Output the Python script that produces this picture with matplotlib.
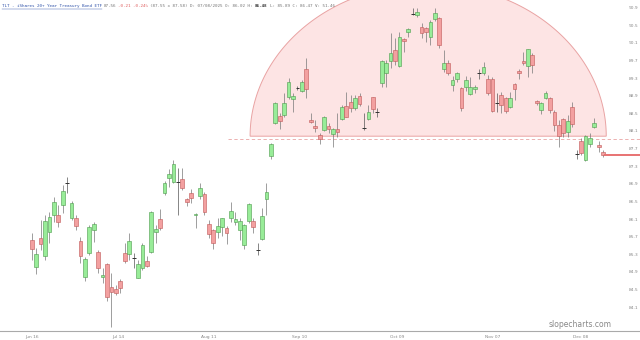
import numpy as np
import matplotlib
matplotlib.use("Agg")
import matplotlib.pyplot as plt
from matplotlib.patches import Rectangle
from matplotlib.lines import Line2D

# daily OHLC
opens = [85.63, 85.01, 85.67, 85.26, 85.81, 86.19, 86.19, 86.42, 86.92, 86.13,
         86.13, 85.60, 84.79, 85.33, 85.85, 85.35, 84.79, 85.08, 84.56, 84.52,
         84.70, 85.33, 85.31, 85.22, 84.77, 84.99, 85.15, 85.35, 85.81, 86.10,
         86.69, 87.03, 86.94, 86.94, 87.01, 86.56, 86.69, 86.19, 86.63, 86.67,
         85.99, 85.85, 85.81, 85.92, 85.90, 86.13, 86.04, 85.85, 85.51, 86.06,
         86.06, 85.40, 85.65, 86.56, 87.53, 88.28, 88.44, 88.46, 88.87, 88.82,
         89.07, 89.01, 89.51, 88.35, 88.21, 88.01, 88.12, 88.21, 88.03, 88.14,
         88.37, 88.67, 88.76, 88.62, 88.89, 88.17, 88.37, 88.87, 88.53, 89.19,
         89.41, 89.69, 89.94, 89.57, 90.19, 90.34, 90.75, 90.73, 90.46, 90.44,
         90.23, 90.64, 90.66, 89.51, 89.64, 89.14, 89.28, 89.07, 89.10, 88.94,
         89.05, 89.41, 89.41, 89.28, 89.28, 88.73, 88.92, 88.85, 88.64, 89.16,
         89.46, 89.69, 89.57, 89.82, 88.78, 88.58, 88.85, 88.85, 88.53, 88.24,
         88.37, 88.08, 88.64, 87.58, 87.87, 87.44, 87.80, 88.19, 87.78, 87.62]
highs = [85.79, 85.45, 86.08, 86.19, 86.26, 86.60, 86.42, 86.87, 87.06, 86.51,
         86.19, 85.69, 85.24, 85.97, 86.04, 85.40, 84.99, 85.10, 84.88, 84.61,
         84.74, 85.56, 85.79, 85.33, 85.17, 85.56, 85.26, 86.29, 85.97, 86.33,
         86.97, 87.24, 87.44, 87.26, 87.26, 86.58, 86.78, 86.24, 86.92, 86.72,
         86.08, 85.88, 86.13, 86.13, 85.94, 86.49, 86.26, 86.13, 85.99, 86.47,
         86.13, 85.56, 86.35, 86.92, 87.83, 88.76, 88.51, 88.96, 89.30, 88.96,
         89.12, 89.26, 89.75, 88.51, 88.35, 88.05, 88.44, 88.28, 88.17, 88.51,
         88.69, 88.98, 88.92, 88.92, 88.96, 88.51, 88.69, 88.88, 88.62, 89.71,
         89.71, 90.32, 90.21, 90.34, 90.21, 90.44, 90.89, 90.89, 90.55, 90.46,
         90.62, 90.89, 90.68, 89.94, 89.71, 89.35, 89.44, 89.10, 89.35, 89.32,
         89.14, 89.51, 89.66, 89.37, 89.32, 88.96, 88.98, 88.87, 88.98, 89.19,
         89.51, 89.89, 89.96, 89.87, 88.80, 88.76, 89.01, 88.87, 88.58, 88.35,
         88.39, 88.46, 88.76, 87.67, 87.94, 88.01, 88.05, 88.39, 87.87, 87.67]
lows = [85.17, 84.86, 85.40, 85.17, 85.56, 86.04, 85.92, 86.24, 86.69, 86.08,
        85.85, 85.10, 84.70, 85.29, 85.58, 84.88, 84.65, 84.24, 83.65, 84.38,
        84.42, 85.10, 85.17, 84.99, 84.76, 84.95, 85.01, 85.33, 85.56, 85.85,
        86.65, 86.83, 86.92, 86.19, 86.76, 86.40, 86.47, 85.90, 86.56, 86.19,
        85.67, 85.42, 85.67, 85.72, 85.54, 86.04, 85.97, 85.63, 85.42, 86.01,
        85.79, 85.29, 85.63, 86.19, 87.46, 88.26, 88.14, 88.42, 88.82, 88.53,
        89.03, 88.98, 88.85, 88.28, 88.08, 87.80, 88.10, 88.05, 87.74, 87.96,
        88.35, 88.41, 88.53, 88.58, 88.67, 88.12, 88.35, 88.51, 88.42, 89.10,
        89.10, 89.53, 89.60, 89.55, 89.89, 90.23, 90.73, 90.68, 90.21, 90.12,
        90.05, 90.59, 89.98, 89.44, 89.37, 89.00, 89.21, 88.55, 89.00, 88.92,
        88.96, 89.28, 89.37, 88.92, 88.53, 88.53, 88.51, 88.51, 88.62, 88.80,
        89.28, 89.60, 89.32, 89.41, 88.69, 88.49, 88.82, 88.51, 88.10, 87.74,
        87.96, 87.96, 88.19, 87.46, 87.55, 87.42, 87.74, 88.17, 87.62, 87.51]
closes = [85.42, 85.31, 85.54, 86.06, 86.15, 86.49, 86.04, 86.74, 86.91, 86.47,
          85.94, 85.26, 85.20, 85.92, 85.99, 84.99, 84.83, 84.33, 84.45, 84.42,
          84.54, 85.15, 85.60, 85.21, 85.08, 85.51, 85.04, 86.26, 85.88, 85.90,
          86.92, 87.12, 87.35, 86.93, 86.81, 86.49, 86.58, 86.22, 86.81, 86.26,
          85.76, 85.56, 85.94, 86.13, 85.79, 86.29, 86.10, 86.06, 85.97, 86.44,
          85.92, 85.39, 86.17, 86.72, 87.80, 88.73, 88.33, 88.73, 89.21, 88.89,
          89.06, 89.21, 89.05, 88.30, 88.17, 87.92, 88.42, 88.14, 88.14, 88.08,
          88.64, 88.42, 88.62, 88.85, 88.71, 88.16, 88.53, 88.60, 88.54, 89.69,
          89.64, 89.87, 89.69, 90.23, 90.14, 90.41, 90.76, 90.80, 90.32, 90.34,
          90.57, 90.78, 90.05, 89.64, 89.41, 89.26, 89.41, 88.62, 89.26, 89.10,
          89.10, 89.40, 89.55, 88.96, 88.55, 88.72, 88.69, 88.55, 88.85, 89.05,
          89.41, 89.64, 89.96, 89.60, 88.73, 88.73, 88.96, 88.58, 88.24, 87.99,
          88.05, 88.33, 88.26, 87.57, 87.60, 87.99, 87.94, 88.28, 87.74, 87.55]

date_ticks = [0, 19.5, 40, 60.5, 82.5, 104, 124]
date_labels = ["Jun 16", "Jul 14", "Aug 11", "Sep 10", "Oct 09", "Nov 07", "Dec 08"]
price_ticks = [84.1, 84.5, 84.9, 85.3, 85.7, 86.1, 86.5, 86.9, 87.3, 87.7,
               88.1, 88.5, 88.9, 89.3, 89.7, 90.1, 90.5, 90.9]

# header pieces: (text, colour, weight)
header = [("TLT - iShares 20+ Year Treasury Bond ETF", "#3355aa", "normal"),
          ("87.56", "#777777", "normal"),
          ("-0.21 -0.24%", "#e06060", "normal"),
          ("(87.55 x 87.58) D: 07/08/2025 O: 86.02 H:", "#777777", "normal"),
          ("86.48", "#333333", "bold"),
          ("L: 85.89 C: 86.47 V: 51.46", "#777777", "normal")]

last_price = 87.56
neckline = 87.92
dome_center = 89.5
dome_halfwidth = 40.2
dome_height = 3.45
dome_base = 87.98

fig = plt.figure(figsize=(6.4, 3.4), dpi=100)
ax = fig.add_axes([0, 9 / 340, 612 / 640, 331 / 340])
ax.set_xlim(-7.16, 131.0)
ax.set_ylim(83.56, 91.07)

# rounded top (dome) shading
t = np.linspace(0, np.pi, 200)
dx = dome_center + dome_halfwidth * np.cos(t)
dy = dome_base + dome_height * np.sin(t)
ax.fill(dx, dy, facecolor="#fde4e4", edgecolor="#e9a3a3", lw=0.7, zorder=1)

# neckline
ax.plot([44.3, 137.5], [neckline, neckline], color="#e9a3a3", lw=0.6,
        ls=(0, (4, 3)), zorder=2, clip_on=False)

# candles
for i, (o, h, l, c) in enumerate(zip(opens, highs, lows, closes)):
    if abs(c - o) < 0.015:
        ax.vlines(i, l, h, color="#555555", lw=0.5, zorder=3)
        ax.hlines(o, i - 0.45, i + 0.45, color="#333333", lw=0.7, zorder=4)
        continue
    up = c > o
    face = "#98ec98" if up else "#f3a0a0"
    edge = "#4c9a4c" if up else "#c05858"
    ax.vlines(i, l, h, color="#777777", lw=0.5, zorder=3)
    ax.add_patch(Rectangle((i - 0.42, min(o, c)), 0.84, abs(c - o),
                           facecolor=face, edgecolor=edge, lw=0.4, zorder=4))

# last price line
ax.plot([129.5, 137.5], [last_price, last_price], color="#e87272", lw=1.4,
        zorder=5, clip_on=False)

for s in ["top", "left", "right", "bottom"]:
    ax.spines[s].set_visible(False)
ax.yaxis.tick_right()
ax.set_yticks(price_ticks)
ax.set_yticklabels([f"{p:.1f}" for p in price_ticks])
ax.tick_params(axis="y", length=0, pad=12, labelsize=3.2, labelcolor="#888888")
ax.set_xticks(date_ticks)
ax.set_xticklabels(date_labels)
ax.tick_params(axis="x", length=0, pad=3, labelsize=3.2, labelcolor="#888888")

# bottom rule across the whole width
fig.add_artist(Line2D([0, 1], [9 / 340, 9 / 340], color="#aaaaaa", lw=0.8))

# header, laid out piece by piece
fig.canvas.draw()
renderer = fig.canvas.get_renderer()
x = 2
for k, (txt, col, wt) in enumerate(header):
    t_ = fig.text(x / 640, 0.988, txt, fontsize=3.05, family="DejaVu Sans Mono",
                  color=col, weight=wt, va="top")
    bb = t_.get_window_extent(renderer)
    if k == 0:
        # link underline under the ticker name
        fig.add_artist(Line2D([bb.x0 / 640, bb.x1 / 640],
                              [(bb.y0 - 0.6) / 340] * 2, color=col, lw=0.3))
    x = bb.x1 + 2

fig.text(0.955, 0.045, "slopecharts.com", fontsize=5.5, color="#888888",
         ha="right", va="center")

fig.savefig("out.png", dpi=100)
